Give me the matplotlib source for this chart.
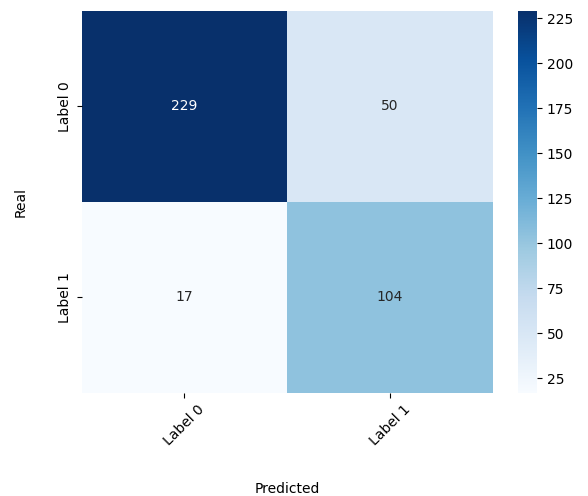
import matplotlib
matplotlib.use('Agg')
import matplotlib.pyplot as plt
import seaborn as sns
import numpy as np

labels = ['Label 0', 'Label 1']
row0 = [229, 50]
row1 = [17, 104]
cm = np.array([row0, row1])

fig = plt.figure(figsize=(5.88, 4.96), dpi=100)
ax = fig.add_axes([0.139, 0.208, 0.699, 0.77])
cax = fig.add_axes([0.881, 0.208, 0.032, 0.77])

sns.heatmap(cm, annot=True, fmt='d', cmap='Blues', ax=ax, cbar_ax=cax,
            xticklabels=labels, yticklabels=labels)

ax.set_xlabel('Predicted', labelpad=24)
ax.set_ylabel('Real', labelpad=22)
plt.setp(ax.get_xticklabels(), rotation=45)
plt.setp(ax.get_yticklabels(), rotation=90, va='center')

fig.savefig('out.png', dpi=100)
